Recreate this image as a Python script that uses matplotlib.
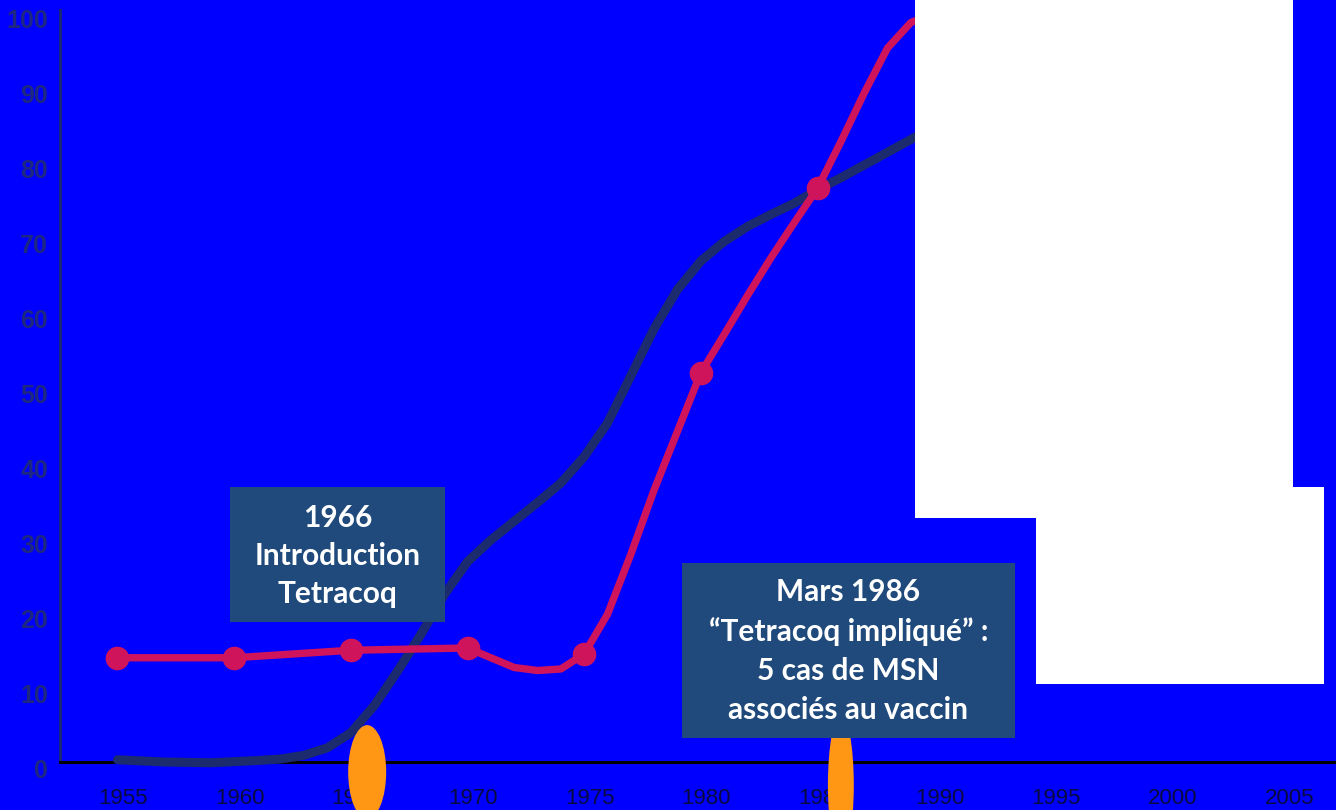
import matplotlib
matplotlib.use('Agg')
import matplotlib.pyplot as plt
from matplotlib.patches import Rectangle, Ellipse
from matplotlib.transforms import ScaledTranslation

W, H = 1336, 810

# ---- data ----
navy_years = [1955, 1957, 1959, 1961, 1962, 1963, 1964, 1965, 1966, 1967, 1968, 1969,
              1970, 1971, 1972, 1973, 1974, 1975, 1976, 1977, 1978, 1979, 1980,
              1981, 1982, 1983, 1984, 1985, 1986, 1987, 1988, 1989, 1990]
navy_values = [1.1, 0.8, 0.7, 1.0, 1.2, 1.7, 2.7, 4.7, 8.3, 12.9, 17.8, 23.1,
               27.5, 30.4, 32.9, 35.4, 38.0, 41.5, 46.0, 52.3, 58.6, 63.8, 67.6,
               70.2, 72.2, 73.8, 75.3, 77.1, 78.7, 80.4, 82.1, 83.8, 85.5]

red_years = [1955, 1960, 1965, 1970, 1971, 1972, 1973, 1974, 1975, 1976, 1977,
             1978, 1979, 1980, 1981, 1982, 1983, 1984, 1985, 1986, 1987, 1988,
             1989, 1990]
red_values = [14.7, 14.7, 15.7, 16.0, 14.7, 13.4, 13.0, 13.2, 15.2, 20.5, 28.5,
              37.1, 44.9, 52.7, 57.8, 63.0, 68.0, 72.7, 77.3, 83.5, 90.0, 96.0,
              99.4, 100.6]
marker_years = [1955, 1960, 1965, 1970, 1975, 1980, 1985]
marker_values = [red_values[red_years.index(y)] for y in marker_years]

x_ticks = [1955, 1960, 1965, 1970, 1975, 1980, 1985, 1990, 1995, 2000, 2005]
y_ticks = [0, 10, 20, 30, 40, 50, 60, 70, 80, 90, 100]

note1 = "1966\nIntroduction\nTetracoq"
note2 = "Mars 1986\n\u201cTetracoq impliqu\u00e9\u201d :\n5 cas de MSN\nassoci\u00e9s au vaccin"
event_years = [1965.7, 1986.0]

BG = '#0000FF'
NAVY = '#1c2a6e'
RED = '#d0145c'
BOX = '#1f4a7b'
ORANGE = '#ff9614'

fig = plt.figure(figsize=(W / 100, H / 100), dpi=100, facecolor=BG)
ax = fig.add_axes([60 / W, 1 - 768 / H, 1 - 60 / W, (768 - 10) / H])
ax.set_facecolor(BG)
ax.set_xlim(1952.536, 2007.22)
ax.set_ylim(0, 101.07)

for s in ['top', 'right']:
    ax.spines[s].set_visible(False)
ax.spines['bottom'].set_position(('data', 0.8))
ax.spines['bottom'].set_color('black')
ax.spines['bottom'].set_linewidth(2.2)
ax.spines['left'].set_color(NAVY)
ax.spines['left'].set_linewidth(2)
ax.spines['left'].set_bounds(0.8, 101.07)

ax.set_yticks(y_ticks)
ax.set_yticklabels([str(v) for v in y_ticks], fontsize=18, fontweight='bold',
                   color='#1e2880', family='Liberation Sans')
ax.set_xticks(x_ticks)
ax.set_xticklabels([str(v) for v in x_ticks], fontsize=16,
                   color='#0a0a40', family='Liberation Sans')
ax.tick_params(axis='y', length=0, pad=8.6)
ax.tick_params(axis='x', length=0, pad=19)
shift = ScaledTranslation(5.5 / 100, 0, fig.dpi_scale_trans)
for lab in ax.get_xticklabels():
    lab.set_transform(lab.get_transform() + shift)

ax.plot(navy_years, navy_values, color=NAVY, lw=6.5, solid_capstyle='round',
        solid_joinstyle='round', zorder=3)
ax.plot(red_years, red_values, color=RED, lw=5.3, solid_capstyle='round',
        solid_joinstyle='round', zorder=4)
ax.plot(marker_years, marker_values, 'o', ms=16, color=RED, zorder=4.5)

ax.add_patch(Ellipse((event_years[0], -0.53), 1.63, 12.5, facecolor=ORANGE,
                     edgecolor='none', zorder=5, clip_on=False))
ax.add_patch(Ellipse((event_years[1], -2.27), 1.11, 18.7, facecolor=ORANGE,
                     edgecolor='none', zorder=5, clip_on=False))


def fig_rect(x0, y0, x1, y1, color, z):
    fig.add_artist(Rectangle((x0 / W, 1 - y1 / H), (x1 - x0) / W, (y1 - y0) / H,
                             transform=fig.transFigure, facecolor=color,
                             edgecolor='none', zorder=z))


fig_rect(230, 487, 445, 622, BOX, 10)
fig.text(337.5 / W, 1 - 556 / H, note1, ha='center', va='center', color='white',
         fontsize=21.5, fontweight='bold', family=['Lato', 'DejaVu Sans'],
         linespacing=1.44, zorder=11)
fig_rect(682, 563, 1015, 738, BOX, 10)
fig.text(848.5 / W, 1 - 651 / H, note2, ha='center', va='center', color='white',
         fontsize=21.5, fontweight='bold', family=['Lato', 'DejaVu Sans'],
         linespacing=1.46, zorder=11)

fig_rect(915, 0, 1293, 518, 'white', 20)
fig_rect(1036, 487, 1324, 684, 'white', 20)

fig.savefig('out.png', dpi=100, facecolor=BG)
